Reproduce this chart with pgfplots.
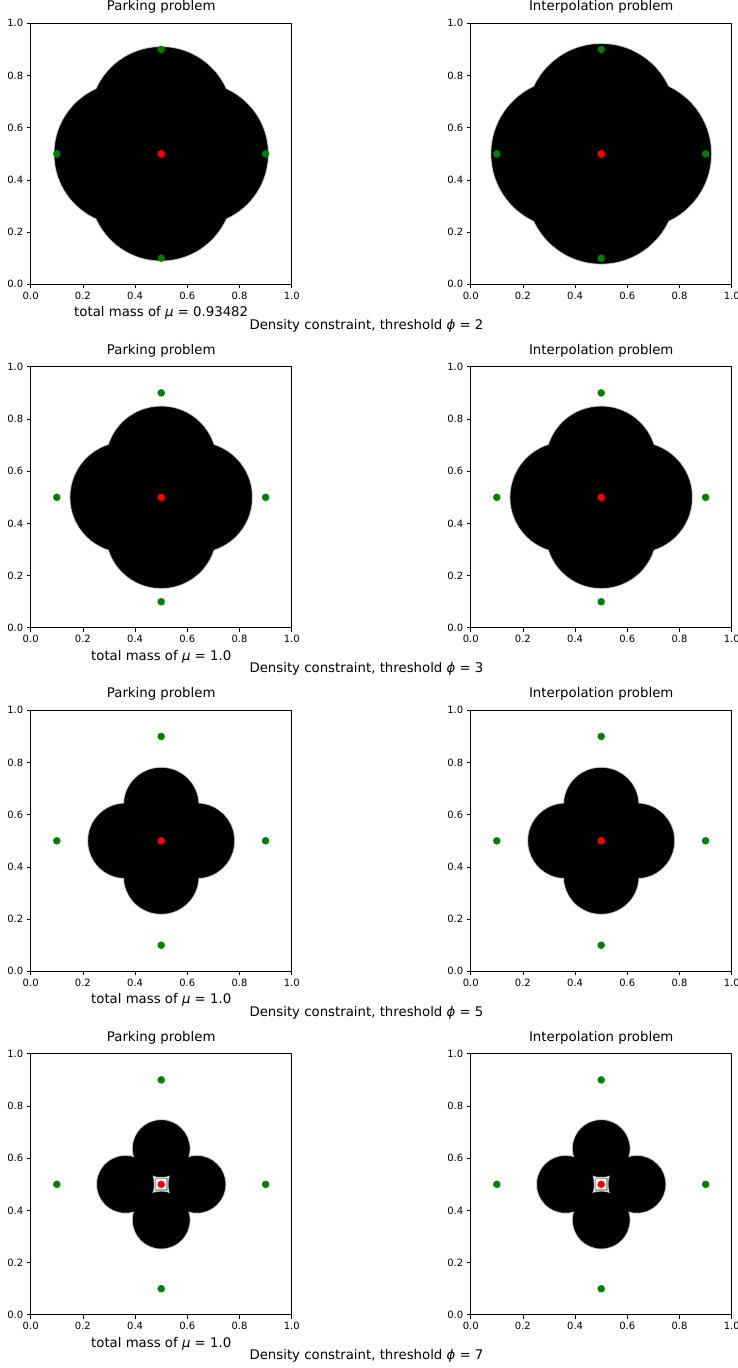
\documentclass[border=0pt]{standalone}
\usepackage{fontspec}
\setmainfont{DejaVu Sans}
\usepackage{pgfplots}
\pgfplotsset{compat=1.18}
\definecolor{mplgreen}{rgb}{0,0.5,0}
\definecolor{mplred}{rgb}{1,0,0}
\newcommand{\mus}{{\itshape μ}}
\newcommand{\phis}{{\itshape ϕ}}
\newcommand{\bigfont}{\fontsize{13.3}{15}\selectfont}

\pgfplotsset{
  panel/.style={
    scale only axis, width=261pt, height=261pt,
    anchor=south west,
    xmin=0, xmax=1, ymin=0, ymax=1,
    xtick={0,0.2,0.4,0.6,0.8,1}, ytick={0,0.2,0.4,0.6,0.8,1},
    tick align=outside, major tick length=4pt,
    tick style={line width=0.8pt, black},
    axis line style={line width=0.8pt, black},
    xtick pos=bottom, ytick pos=left,
    ticklabel style={font=\fontsize{10}{12}\selectfont},
    xticklabel style={yshift=0pt},
    /pgf/number format/.cd, fixed, fixed zerofill, precision=1, assume math mode=true,
    /pgfplots/.cd,
    title style={at={(0.5,1)}, anchor=base, yshift=6.7pt, font=\bigfont},
    xlabel style={at={(axis description cs:0.5,0)}, anchor=base, yshift=-32.5pt, font=\bigfont},
  },
  blobedge/.style={only marks, mark=*, gray!45, mark options={draw=none}},
  blob/.style={only marks, mark=*, black, mark options={draw=none}},
  targets/.style={only marks, mark=*, mark size=3.5pt, mplgreen, mark options={draw=none}},
  source/.style={only marks, mark=*, mark size=3.5pt, mplred, mark options={draw=none}},
}

\begin{document}
\begin{tikzpicture}
\path[use as bounding box] (0,0) rectangle (738pt,-1368pt);

% ---------------- Row 1: phi = 2 ----------------
\begin{axis}[panel, at={(30.7pt,-284.3pt)}, title={Parking problem}, xlabel={total mass of \mus{} = 0.93482}]
\addplot[blobedge, mark size={0.271*261pt+0.9pt}] coordinates {(0.363,0.5)(0.637,0.5)(0.5,0.363)(0.5,0.637)};
\addplot[blob, mark size={0.271*261pt}] coordinates {(0.363,0.5)(0.637,0.5)(0.5,0.363)(0.5,0.637)};
\addplot[targets] coordinates {(0.1,0.5)(0.9,0.5)(0.5,0.1)(0.5,0.9)};
\addplot[source] coordinates {(0.5,0.5)};
\end{axis}
\begin{axis}[panel, at={(470.7pt,-284.3pt)}, title={Interpolation problem}]
\addplot[blobedge, mark size={0.283*261pt+0.9pt}] coordinates {(0.363,0.5)(0.637,0.5)(0.5,0.363)(0.5,0.637)};
\addplot[blob, mark size={0.283*261pt}] coordinates {(0.363,0.5)(0.637,0.5)(0.5,0.363)(0.5,0.637)};
\addplot[targets] coordinates {(0.1,0.5)(0.9,0.5)(0.5,0.1)(0.5,0.9)};
\addplot[source] coordinates {(0.5,0.5)};
\end{axis}
\node[anchor=base, font=\bigfont] at (366.5pt,-329pt) {Density constraint, threshold \phis{} = 2};

% ---------------- Row 2: phi = 3 ----------------
\begin{axis}[panel, at={(30.7pt,-627.8pt)}, title={Parking problem}, xlabel={total mass of \mus{} = 1.0}]
\addplot[blobedge, mark size={0.21*261pt+0.9pt}] coordinates {(0.363,0.5)(0.637,0.5)(0.5,0.363)(0.5,0.637)};
\addplot[blob, mark size={0.21*261pt}] coordinates {(0.363,0.5)(0.637,0.5)(0.5,0.363)(0.5,0.637)};
\addplot[targets] coordinates {(0.1,0.5)(0.9,0.5)(0.5,0.1)(0.5,0.9)};
\addplot[source] coordinates {(0.5,0.5)};
\end{axis}
\begin{axis}[panel, at={(470.7pt,-627.8pt)}, title={Interpolation problem}]
\addplot[blobedge, mark size={0.21*261pt+0.9pt}] coordinates {(0.363,0.5)(0.637,0.5)(0.5,0.363)(0.5,0.637)};
\addplot[blob, mark size={0.21*261pt}] coordinates {(0.363,0.5)(0.637,0.5)(0.5,0.363)(0.5,0.637)};
\addplot[targets] coordinates {(0.1,0.5)(0.9,0.5)(0.5,0.1)(0.5,0.9)};
\addplot[source] coordinates {(0.5,0.5)};
\end{axis}
\node[anchor=base, font=\bigfont] at (366.5pt,-672.5pt) {Density constraint, threshold \phis{} = 3};

% ---------------- Row 3: phi = 5 ----------------
\begin{axis}[panel, at={(30.7pt,-971.3pt)}, title={Parking problem}, xlabel={total mass of \mus{} = 1.0}]
\addplot[blobedge, mark size={0.142*261pt+0.9pt}] coordinates {(0.363,0.5)(0.637,0.5)(0.5,0.363)(0.5,0.637)};
\addplot[blob, mark size={0.142*261pt}] coordinates {(0.363,0.5)(0.637,0.5)(0.5,0.363)(0.5,0.637)};
\addplot[targets] coordinates {(0.1,0.5)(0.9,0.5)(0.5,0.1)(0.5,0.9)};
\addplot[source] coordinates {(0.5,0.5)};
\end{axis}
\begin{axis}[panel, at={(470.7pt,-971.3pt)}, title={Interpolation problem}]
\addplot[blobedge, mark size={0.142*261pt+0.9pt}] coordinates {(0.363,0.5)(0.637,0.5)(0.5,0.363)(0.5,0.637)};
\addplot[blob, mark size={0.142*261pt}] coordinates {(0.363,0.5)(0.637,0.5)(0.5,0.363)(0.5,0.637)};
\addplot[targets] coordinates {(0.1,0.5)(0.9,0.5)(0.5,0.1)(0.5,0.9)};
\addplot[source] coordinates {(0.5,0.5)};
\end{axis}
\node[anchor=base, font=\bigfont] at (366.5pt,-1016pt) {Density constraint, threshold \phis{} = 5};

% ---------------- Row 4: phi = 7 ----------------
\begin{axis}[panel, at={(30.7pt,-1314.8pt)}, title={Parking problem}, xlabel={total mass of \mus{} = 1.0}]
\addplot[blobedge, mark size={0.108*261pt+0.9pt}] coordinates {(0.363,0.5)(0.637,0.5)(0.5,0.363)(0.5,0.637)};
\addplot[blob, mark size={0.108*261pt}] coordinates {(0.363,0.5)(0.637,0.5)(0.5,0.363)(0.5,0.637)};
\addplot[fill=white, draw=gray!70, line width=1.8pt] coordinates {(0.478,0.478)(0.522,0.478)(0.522,0.522)(0.478,0.522)} -- cycle;
\addplot[targets] coordinates {(0.1,0.5)(0.9,0.5)(0.5,0.1)(0.5,0.9)};
\addplot[source] coordinates {(0.5,0.5)};
\end{axis}
\begin{axis}[panel, at={(470.7pt,-1314.8pt)}, title={Interpolation problem}]
\addplot[blobedge, mark size={0.108*261pt+0.9pt}] coordinates {(0.363,0.5)(0.637,0.5)(0.5,0.363)(0.5,0.637)};
\addplot[blob, mark size={0.108*261pt}] coordinates {(0.363,0.5)(0.637,0.5)(0.5,0.363)(0.5,0.637)};
\addplot[fill=white, draw=gray!70, line width=1.8pt] coordinates {(0.478,0.478)(0.522,0.478)(0.522,0.522)(0.478,0.522)} -- cycle;
\addplot[targets] coordinates {(0.1,0.5)(0.9,0.5)(0.5,0.1)(0.5,0.9)};
\addplot[source] coordinates {(0.5,0.5)};
\end{axis}
\node[anchor=base, font=\bigfont] at (366.5pt,-1359.5pt) {Density constraint, threshold \phis{} = 7};
\end{tikzpicture}
\end{document}
